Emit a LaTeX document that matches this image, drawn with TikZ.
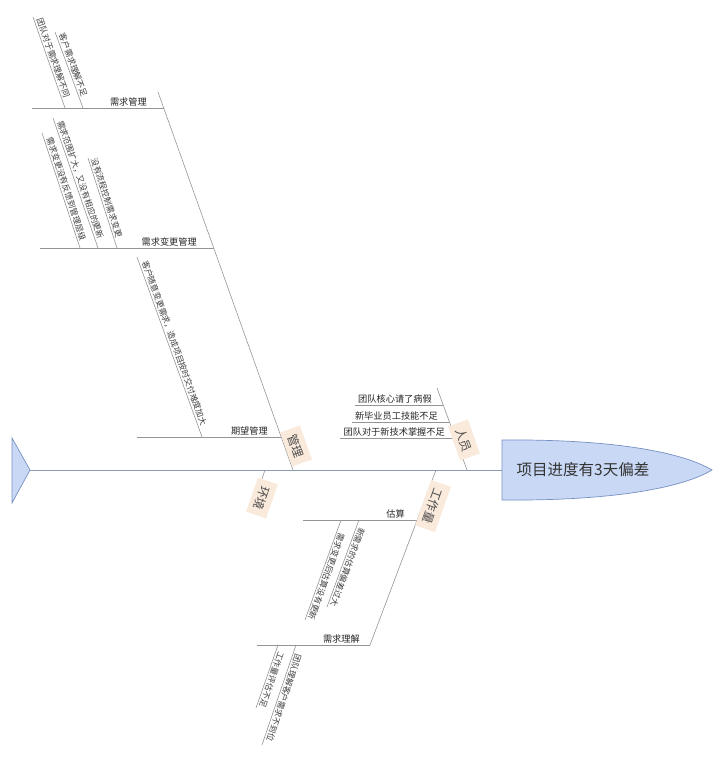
\documentclass[tikz,border=0pt]{standalone}
\usepackage{fontspec}
\setmainfont{Noto Sans CJK SC}
\definecolor{headblue}{RGB}{200,216,245}
\definecolor{headline}{RGB}{120,145,195}
\definecolor{spinecol}{RGB}{140,155,180}
\definecolor{peach}{RGB}{250,234,220}
\begin{document}
\begin{tikzpicture}[x=1pt,y=-1pt,
  bone/.style={draw=black!42, line width=0.6pt},
  spineline/.style={draw=spinecol, line width=0.8pt},
  cat/.style={fill=peach, text=black!70, font=\fontsize{12}{12}\selectfont, inner xsep=6pt, inner ysep=3pt, minimum height=21pt},
  lab/.style={font=\fontsize{9.2}{9.2}\selectfont, text=black!85, inner sep=1pt},
  rlab/.style={font=\fontsize{8.3}{8.3}\selectfont, text=black!75, inner sep=1pt, sloped, allow upside down, above=0.5pt},
]
\fill[white] (0,0) rectangle (720,763);
\useasboundingbox (0,0) rectangle (720,763);

% spine, tail, head
\coordinate (tailT) at (12,438);
\coordinate (spL) at (30,470);
\coordinate (tailB) at (12,503);
\coordinate (spR) at (502,470);
\draw[spineline] (spL) -- (spR);
\draw[fill=headblue, draw=headline, line width=0.7pt] (tailT) -- (spL) -- (tailB) -- cycle;
\draw[fill=headblue, draw=headline, line width=0.7pt]
  (502,440) .. controls (612,439) and (682,452) .. (712,470)
  .. controls (682,488) and (612,501) .. (502,500) -- cycle;
\node[font=\fontsize{15.5}{15.5}\selectfont, text=black!80] (head) at (583,470) {项目进度有3天偏差};

% ---------- 管理 ----------
\coordinate (mT) at (158,92);
\coordinate (mS) at (293,470);
\draw[bone] (mT) -- (mS);

% 需求管理
\coordinate (r1L) at (32,108);
\coordinate (r1R) at (163.7,108);
\draw[bone] (r1L) -- (r1R);
\node[lab, anchor=south east] (t1) at (148,107) {需求管理};
\coordinate (a1) at (33,17);  \coordinate (a2) at (65,108);
\draw[bone] (a1) -- (a2) node[rlab, pos=0.47] {团队对于需求理解不同};
\coordinate (b1) at (55,32);  \coordinate (b2) at (83,108);
\draw[bone] (b1) -- (b2) node[rlab, pos=0.46] {客户需求理解不足};

% 需求变更管理
\coordinate (r2L) at (40,248);
\coordinate (r2R) at (213.7,248);
\draw[bone] (r2L) -- (r2R);
\node[lab, anchor=south east] (t2) at (198,247) {需求变更管理};
\coordinate (c1) at (42,133);  \coordinate (c2) at (80,248);
\draw[bone] (c1) -- (c2) node[rlab, pos=0.5] {需求变更没有反馈到管理层级};
\coordinate (d1) at (53,118);  \coordinate (d2) at (98,248);
\draw[bone] (d1) -- (d2) node[rlab, pos=0.49] {需求范围扩大，又没有相应的更新};
\coordinate (e1) at (88,158);  \coordinate (e2) at (117,248);
\draw[bone] (e1) -- (e2) node[rlab, pos=0.46] {没有流程控制需求变更};

% 期望管理
\coordinate (r3L) at (137,437);
\coordinate (r3R) at (281,437);
\draw[bone] (r3L) -- (r3R);
\node[lab, anchor=south east] (t3) at (269,436) {期望管理};
\coordinate (f1) at (137,257);  \coordinate (f2) at (202,437);
\draw[bone] (f1) -- (f2) node[rlab, pos=0.49] {客户随意变更需求，造成项目按时交付难度加大};

\node[cat, rotate=-70.6] (mgmt) at (296,446) {管理};

% ---------- 人员 ----------
\coordinate (pT) at (437,388);
\coordinate (pS) at (467,470);
\draw[bone] (pT) -- (pS);
\coordinate (p1L) at (355,405); \coordinate (p1R) at (443.2,405);
\draw[bone] (p1L) -- (p1R);
\node[lab, anchor=south east] (q1) at (433,404) {团队核心请了病假};
\coordinate (p2L) at (352,422); \coordinate (p2R) at (449.4,422);
\draw[bone] (p2L) -- (p2R);
\node[lab, anchor=south east] (q2) at (439,421) {新毕业员工技能不足};
\coordinate (p3L) at (340,438); \coordinate (p3R) at (455.3,438);
\draw[bone] (p3L) -- (p3R);
\node[lab, anchor=south east] (q3) at (446,437) {团队对于新技术掌握不足};
\node[cat, rotate=-70.6] (people) at (464,440) {人员};

% ---------- 环境 ----------
\coordinate (eS) at (265,470);
\coordinate (eB) at (253,505);
\draw[bone] (eS) -- (eB);
\node[cat, rotate=-109.4] (env) at (262,498) {环境};

% ---------- 工作量 ----------
\coordinate (wS) at (436,470);
\coordinate (wB) at (370,645);
\draw[bone] (wS) -- (wB);

% 估算
\coordinate (s1L) at (303,520); \coordinate (s1R) at (417.1,520);
\draw[bone] (s1L) -- (s1R);
\node[lab, anchor=south east] (u1) at (406,519) {估算};
\coordinate (g1) at (359,520);  \coordinate (g2) at (327,607);
\draw[bone] (g1) -- (g2) node[rlab, pos=0.52] {新需求的估算偏差过大};
\coordinate (h1) at (341,520);  \coordinate (h2) at (305,620);
\draw[bone] (h1) -- (h2) node[rlab, pos=0.55] {需求变更后估算没有更新};

% 需求理解
\coordinate (s2L) at (257,645); \coordinate (s2R) at (370,645);
\draw[bone] (s2L) -- (s2R);
\node[lab, anchor=south east] (u2) at (361,644) {需求理解};
\coordinate (i1) at (278,645);  \coordinate (i2) at (256,708);
\draw[bone] (i1) -- (i2) node[rlab, pos=0.52] {工作量评估不足};
\coordinate (j1) at (296,645);  \coordinate (j2) at (262,745);
\draw[bone] (j1) -- (j2) node[rlab, pos=0.51] {团队理解客户需求不到位};

\node[cat, rotate=-109.4] (work) at (433,506) {工作量};
\end{tikzpicture}
\end{document}
